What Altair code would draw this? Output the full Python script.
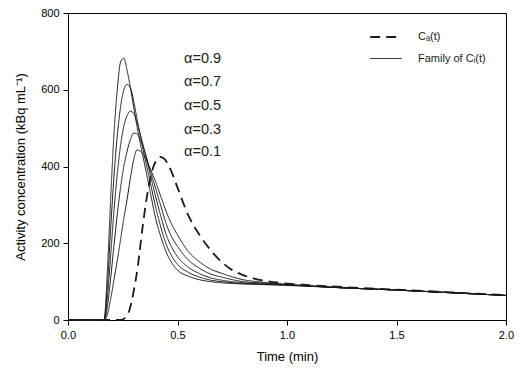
import altair as alt
import pandas as pd

# Time grid (min) for the family of C_i(t) curves
t_fam = [0.0, 0.15, 0.165, 0.18, 0.195, 0.21, 0.225, 0.24, 0.255, 0.27, 0.285, 0.30,
         0.315, 0.33, 0.35, 0.375, 0.40, 0.425, 0.45, 0.475, 0.5, 0.55, 0.6, 0.65,
         0.7, 0.8, 0.9, 1.0, 1.25, 1.5, 1.75, 2.0]

ci_09 = [0, 0, 2, 130, 320, 485, 600, 672, 682, 650, 605, 555,
         505, 460, 405, 335, 265, 215, 175, 148, 130, 114, 105, 100,
         97, 94, 92, 90, 84, 78, 71, 64]
ci_07 = [0, 0, 1, 90, 240, 375, 480, 555, 600, 614, 605, 570,
         525, 480, 425, 360, 295, 240, 195, 165, 145, 124, 112, 104,
         100, 95, 93, 91, 84, 78, 71, 64]
ci_05 = [0, 0, 1, 60, 170, 285, 380, 455, 505, 533, 544, 538,
         515, 485, 440, 380, 322, 268, 220, 188, 165, 137, 121, 110,
         104, 97, 94, 92, 84, 78, 71, 64]
ci_03 = [0, 0, 0, 35, 110, 195, 275, 345, 400, 440, 470, 487,
         485, 470, 440, 390, 343, 295, 248, 215, 192, 156, 135, 120,
         112, 100, 96, 92, 84, 78, 71, 64]
ci_01 = [0, 0, 0, 15, 55, 105, 155, 210, 265, 315, 370, 418,
         443, 440, 425, 395, 360, 320, 280, 248, 222, 178, 152, 133,
         122, 105, 98, 93, 84, 78, 71, 64]

# Arterial input C_a(t)
t_ca = [0.0, 0.24, 0.26, 0.28, 0.30, 0.32, 0.34, 0.36, 0.38, 0.40, 0.42, 0.44,
        0.47, 0.5, 0.55, 0.6, 0.65, 0.7, 0.75, 0.8, 0.85, 0.9, 1.0, 1.1,
        1.25, 1.5, 1.75, 2.0]
ca = [0, 0, 5, 25, 75, 145, 240, 320, 380, 413, 425, 420,
      390, 345, 272, 222, 183, 152, 130, 117, 108, 102, 95, 91,
      86, 79, 72, 65]

alphas = ["0.9", "0.7", "0.5", "0.3", "0.1"]
fam_series = [ci_09, ci_07, ci_05, ci_03, ci_01]

# annotation labels (data coordinates)
lab_text = ["α=0.9", "α=0.7", "α=0.5", "α=0.3", "α=0.1"]
lab_t = [0.53, 0.53, 0.53, 0.53, 0.53]
lab_v = [681, 619, 557, 495, 437]

KIND_A = "Cₐ(t)"
KIND_I = "Family of Cᵢ(t)"

rows = []
for t, v in zip(t_ca, ca):
    rows.append({"t": t, "v": v, "curve": "Ca", "kind": KIND_A})
for a, s in zip(alphas, fam_series):
    for t, v in zip(t_fam, s):
        rows.append({"t": t, "v": v, "curve": "Ci " + a, "kind": KIND_I})
df = pd.DataFrame(rows)

labels = pd.DataFrame({"t": lab_t, "v": lab_v, "txt": lab_text})

FONT = "Liberation Sans"

x = alt.X("t:Q", scale=alt.Scale(domain=[0, 2], nice=False),
          axis=alt.Axis(title="Time (min)", values=[0, 0.5, 1.0, 1.5, 2.0], format=".1f",
                        titlePadding=10, labelFlush=False))
y = alt.Y("v:Q", scale=alt.Scale(domain=[0, 800], nice=False),
          axis=alt.Axis(title="Activity concentration (kBq mL⁻¹)", values=[0, 200, 400, 600, 800],
                        titlePadding=13, labelFlush=False))

lines = alt.Chart(df).mark_line(interpolate="monotone", color="#1a1a1a").encode(
    x=x, y=y,
    detail="curve:N",
    strokeDash=alt.StrokeDash("kind:N",
                              scale=alt.Scale(domain=[KIND_A, KIND_I], range=[[10, 6], [1, 0]]),
                              legend=alt.Legend(title=None, orient="none", legendX=301, legendY=7,
                                                symbolType="stroke", symbolSize=1000,
                                                symbolStrokeColor="#1a1a1a", symbolStrokeWidth=1.6,
                                                labelFontSize=11, labelFont=FONT, labelColor="#1a1a1a",
                                                rowPadding=0, labelOffset=15)),
    strokeWidth=alt.StrokeWidth("kind:N",
                                scale=alt.Scale(domain=[KIND_A, KIND_I], range=[1.8, 1.0]),
                                legend=None),
)

text = alt.Chart(labels).mark_text(align="left", baseline="middle", fontSize=14.5,
                                   font=FONT, color="#222222").encode(
    x="t:Q", y="v:Q", text="txt:N")

chart = alt.layer(lines, text).properties(
    width=438, height=307,
    padding={"left": 60, "top": 5, "right": 9, "bottom": 45},
    autosize=alt.AutoSizeParams(type="none"),
).configure_view(stroke="black", strokeWidth=1).configure_axis(
    grid=False, domainColor="black", tickColor="black", tickSize=5,
    labelColor="black", titleColor="black", labelFont=FONT, titleFont=FONT,
    labelFontSize=11, titleFontSize=13, titleFontWeight="normal", labelPadding=4,
)

chart.save("out.html", embed_options={"renderer": "svg", "actions": False})
